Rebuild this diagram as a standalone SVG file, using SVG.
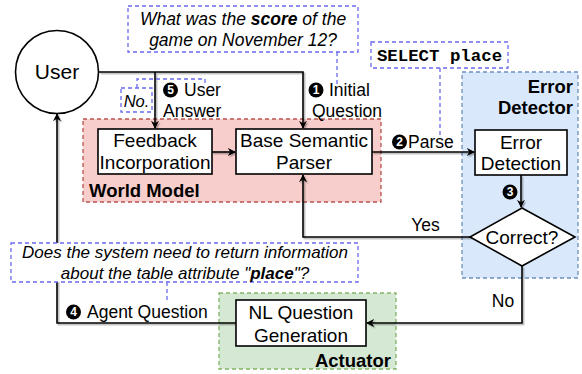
<svg xmlns="http://www.w3.org/2000/svg" width="582" height="374" viewBox="0 0 582 374">
<style>
text{font-family:"Liberation Sans",Arial,sans-serif;fill:#000}
.box{fill:#fff;stroke:#000;stroke-width:1.6}
.t19{font-size:19px;text-anchor:middle}
.lbl{font-size:17.5px}
.bold{font-weight:bold;font-size:18.5px}
.note{fill:#fff;stroke:#6a6af0;stroke-width:1.3;stroke-dasharray:4 3}
.ndash{fill:none;stroke:#6a6af0;stroke-width:1.3;stroke-dasharray:4 3}
.it{font-style:italic;font-size:17.5px;text-anchor:middle}
.edge{fill:none;stroke:#000;stroke-width:1.6}
.dot{fill:#000}
text.dg{fill:#fff;font-weight:bold;font-size:12px;text-anchor:middle}
.mono{font-family:"Liberation Mono","Courier New",monospace;font-weight:bold;font-size:17.4px;text-anchor:middle}
</style>
<defs>
<marker id="arr" viewBox="0 0 10 10" refX="9" refY="5" markerWidth="8" markerHeight="8" markerUnits="userSpaceOnUse" orient="auto">
<path d="M0,0 L10,5 L0,10 L3,5 z" fill="#000"/>
</marker>
<filter id="sh" x="-10%" y="-10%" width="130%" height="130%">
<feDropShadow dx="1.5" dy="1.5" stdDeviation="0.6" flood-color="#000" flood-opacity="0.3"/>
</filter>
</defs>

<g id="world-model">
<rect x="83" y="119" width="298" height="83" fill="#f8cecc" stroke="#b85450" stroke-width="1.3" stroke-dasharray="4 3"/>
<text class="bold" x="89" y="197">World Model</text>
</g>
<g id="error-detector">
<rect x="462" y="72" width="116" height="206" fill="#dae8fc" stroke="#6c8ebf" stroke-width="1.3" stroke-dasharray="4 3"/>
<text class="bold" x="573" y="93" text-anchor="end">Error</text>
<text class="bold" x="573" y="114" text-anchor="end">Detector</text>
</g>
<g id="actuator">
<rect x="219" y="293" width="177" height="76" fill="#d5e8d4" stroke="#82b366" stroke-width="1.3" stroke-dasharray="4 3"/>
<text class="bold" x="391" y="367" text-anchor="end">Actuator</text>
</g>

<g id="connectors" filter="url(#sh)">
<path class="edge" d="M99,72 H303 V128" marker-end="url(#arr)"/>
<path class="edge" d="M155,72 V128" marker-end="url(#arr)"/>
<path class="edge" d="M212,152 H235" marker-end="url(#arr)"/>
<path class="edge" d="M372,152 H474" marker-end="url(#arr)"/>
<path class="edge" d="M521,175 V207" marker-end="url(#arr)"/>
<path class="edge" d="M471,237 H303 V175" marker-end="url(#arr)"/>
<path class="edge" d="M522,266 V323 H367" marker-end="url(#arr)"/>
<path class="edge" d="M236,323 H57 V114" marker-end="url(#arr)"/>
</g>

<g id="note-links">
<path class="ndash" d="M337,52 V84"/>
<path class="ndash" d="M440,68 V135"/>
<path class="ndash" d="M167,282 V300"/>
<path class="ndash" d="M137,88 V79 H205 V83"/>
</g>

<g id="user">
<circle cx="57" cy="72" r="41.5" class="box"/>
<text x="57" y="79" font-size="21" text-anchor="middle">User</text>
</g>
<g id="feedback-incorporation">
<rect x="98" y="129" width="114" height="45" class="box"/>
<text class="t19" x="155" y="147">Feedback</text>
<text class="t19" x="155" y="169">Incorporation</text>
</g>
<g id="base-semantic-parser">
<rect x="236" y="129" width="136" height="45" class="box"/>
<text class="t19" x="304" y="147">Base Semantic</text>
<text class="t19" x="304" y="169">Parser</text>
</g>
<g id="error-detection">
<rect x="475" y="130" width="92" height="45" class="box"/>
<text class="t19" x="521" y="149">Error</text>
<text class="t19" x="521" y="170">Detection</text>
</g>
<g id="correct">
<polygon points="522,208 575,237 522,266 470,237" class="box"/>
<text class="t19" x="522" y="244">Correct?</text>
</g>
<g id="nl-question-generation">
<rect x="236" y="300" width="130" height="46" class="box"/>
<text class="t19" x="301" y="319">NL Question</text>
<text class="t19" x="301" y="342">Generation</text>
</g>

<g id="note-question">
<rect x="128" y="6" width="230" height="46" class="note"/>
<text class="it" x="243" y="24.5">What was the <tspan font-weight="bold">score</tspan> of the</text>
<text class="it" x="243" y="46">game on November 12?</text>
</g>
<g id="note-sql">
<rect x="371" y="42" width="137" height="26" class="note"/>
<text class="mono" x="439.5" y="61">SELECT place</text>
</g>
<g id="note-agent-question">
<rect x="11" y="243" width="347" height="39" class="note"/>
<text class="it" x="185" y="258" style="font-size:17px">Does the system need to return information</text>
<text class="it" x="185" y="279" style="font-size:17px">about the table attribute "<tspan font-weight="bold">place</tspan>"?</text>
</g>
<g id="note-no">
<rect x="121" y="88" width="31" height="24" class="note"/>
<text class="it" x="136.5" y="107" style="font-size:16.5px">No.</text>
</g>

<g id="labels">
<circle class="dot" cx="170.5" cy="90" r="7.5"/><text class="dg" x="170.5" y="94.3">5</text>
<text class="lbl" x="184" y="96">User</text>
<text class="lbl" x="163" y="117">Answer</text>
<circle class="dot" cx="316" cy="90" r="7.5"/><text class="dg" x="316" y="94.3">1</text>
<text class="lbl" x="329" y="96">Initial</text>
<text class="lbl" x="312" y="117">Question</text>
<circle class="dot" cx="399.5" cy="142" r="7.5"/><text class="dg" x="399.5" y="146.3">2</text>
<text class="lbl" x="408" y="148">Parse</text>
<circle class="dot" cx="510" cy="192" r="7.5"/><text class="dg" x="510" y="196.3">3</text>
<text class="lbl" x="425.5" y="231" text-anchor="middle">Yes</text>
<text class="lbl" x="503" y="307" text-anchor="middle">No</text>
<circle class="dot" cx="73.5" cy="312" r="7.5"/><text class="dg" x="73.5" y="316.3">4</text>
<text class="lbl" x="87" y="318">Agent Question</text>
</g>
</svg>
